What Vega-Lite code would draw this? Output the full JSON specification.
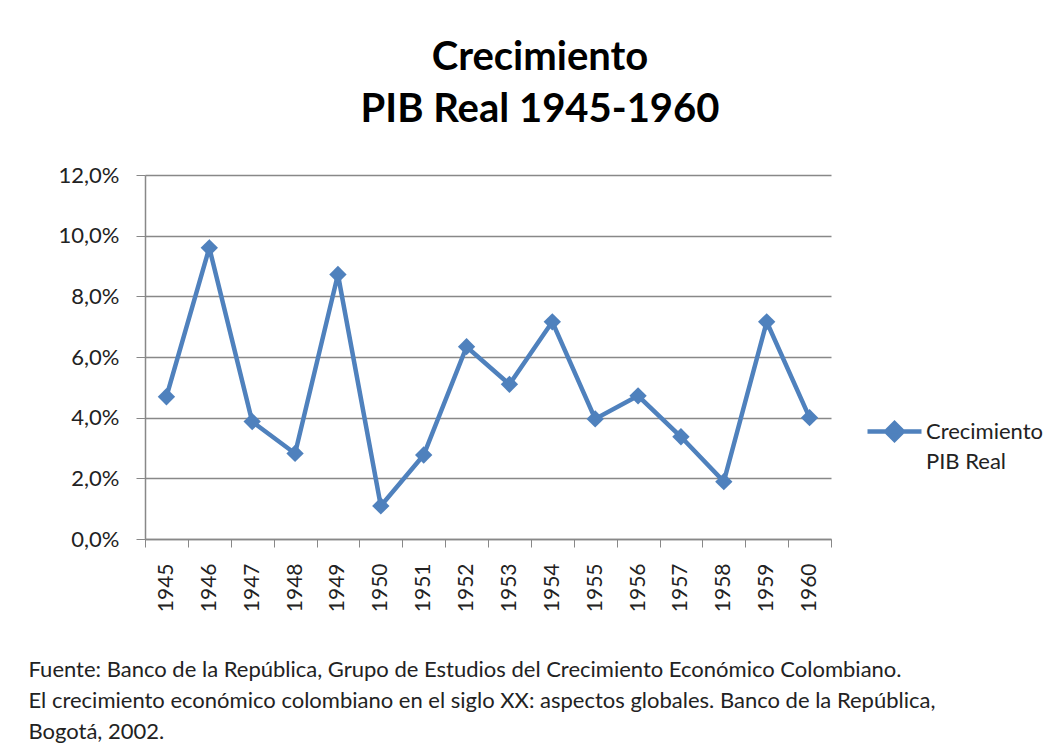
{
  "$schema": "https://vega.github.io/schema/vega-lite/v6.json",
  "autosize": {"type": "none"},
  "padding": {"left": 145, "top": 175, "right": 231, "bottom": 206},
  "width": 686,
  "height": 364,
  "background": "white",
  "title": {
    "text": ["Crecimiento", "PIB Real 1945-1960"],
    "font": "Lato",
    "fontSize": 40,
    "fontWeight": "bold",
    "color": "#000000",
    "lineHeight": 52,
    "anchor": "middle",
    "frame": "group",
    "dx": 52,
    "offset": 34
  },
  "data": {
    "values": [
      {"anio": "1945", "crecimiento": 0.0469, "serie": "Crecimiento PIB Real"},
      {"anio": "1946", "crecimiento": 0.0960, "serie": "Crecimiento PIB Real"},
      {"anio": "1947", "crecimiento": 0.0387, "serie": "Crecimiento PIB Real"},
      {"anio": "1948", "crecimiento": 0.0282, "serie": "Crecimiento PIB Real"},
      {"anio": "1949", "crecimiento": 0.0872, "serie": "Crecimiento PIB Real"},
      {"anio": "1950", "crecimiento": 0.0109, "serie": "Crecimiento PIB Real"},
      {"anio": "1951", "crecimiento": 0.0277, "serie": "Crecimiento PIB Real"},
      {"anio": "1952", "crecimiento": 0.0634, "serie": "Crecimiento PIB Real"},
      {"anio": "1953", "crecimiento": 0.0510, "serie": "Crecimiento PIB Real"},
      {"anio": "1954", "crecimiento": 0.0716, "serie": "Crecimiento PIB Real"},
      {"anio": "1955", "crecimiento": 0.0396, "serie": "Crecimiento PIB Real"},
      {"anio": "1956", "crecimiento": 0.0472, "serie": "Crecimiento PIB Real"},
      {"anio": "1957", "crecimiento": 0.0337, "serie": "Crecimiento PIB Real"},
      {"anio": "1958", "crecimiento": 0.0189, "serie": "Crecimiento PIB Real"},
      {"anio": "1959", "crecimiento": 0.0716, "serie": "Crecimiento PIB Real"},
      {"anio": "1960", "crecimiento": 0.0400, "serie": "Crecimiento PIB Real"}
    ]
  },
  "mark": {
    "type": "line",
    "strokeWidth": 4.5,
    "point": {"shape": "diamond", "size": 300, "filled": true, "opacity": 1}
  },
  "encoding": {
    "x": {
      "field": "anio",
      "type": "ordinal",
      "scale": {"type": "band", "paddingInner": 0, "paddingOuter": 0},
      "axis": {
        "labelAngle": -90,
        "labelAlign": "right",
        "labelBaseline": "middle",
        "labelFont": "Lato",
        "labelFontSize": 21,
        "labelColor": "#222222",
        "labelPadding": 16,
        "tickBand": "extent",
        "tickSize": 8,
        "tickColor": "#888888",
        "domainColor": "#888888",
        "domainWidth": 1.5,
        "grid": false,
        "title": [
          "Fuente: Banco de la República, Grupo de Estudios del Crecimiento Económico Colombiano.",
          "El crecimiento económico colombiano  en el siglo XX: aspectos globales. Banco de la República,",
          "Bogotá, 2002."
        ],
        "titleFont": "Lato",
        "titleFontSize": 22,
        "titleFontWeight": "normal",
        "titleColor": "#222222",
        "titleAlign": "left",
        "titleAnchor": "start",
        "titleBaseline": "alphabetic",
        "titleLineHeight": 31,
        "titleX": -117,
        "titleY": 137
      }
    },
    "y": {
      "field": "crecimiento",
      "type": "quantitative",
      "scale": {"domain": [0, 0.12], "nice": false},
      "axis": {
        "values": [0, 0.02, 0.04, 0.06, 0.08, 0.1, 0.12],
        "labelExpr": "replace(format(datum.value, '.1%'), '.', ',')",
        "labelFont": "Lato",
        "labelFontSize": 22,
        "labelColor": "#222222",
        "labelPadding": 17,
        "tickSize": 9,
        "tickColor": "#888888",
        "domainColor": "#888888",
        "domainWidth": 1.5,
        "gridColor": "#888888",
        "gridWidth": 1.5,
        "title": null
      }
    },
    "color": {
      "field": "serie",
      "type": "nominal",
      "scale": {"range": ["#4F81BD"]},
      "legend": {
        "orient": "none",
        "legendX": 720,
        "legendY": 227,
        "title": null,
        "symbolType": "M-1,0H1M-0.31,0L0,-0.31L0.31,0L0,0.31Z",
        "symbolSize": 2916,
        "symbolStrokeWidth": 4.5,
        "labelFont": "Lato",
        "labelFontSize": 22,
        "labelColor": "#222222",
        "labelExpr": "['Crecimiento', 'PIB Real']",
        "labelBaseline": "middle",
        "labelOffset": 2,
        "labelLimit": 300,
        "encode": {
          "symbols": {"update": {"fill": {"value": "#4F81BD"}, "stroke": {"value": "#4F81BD"}, "opacity": {"value": 1}}},
          "labels": {"update": {"lineHeight": {"value": 30}}}
        }
      }
    }
  },
  "config": {"view": {"stroke": null}}
}
